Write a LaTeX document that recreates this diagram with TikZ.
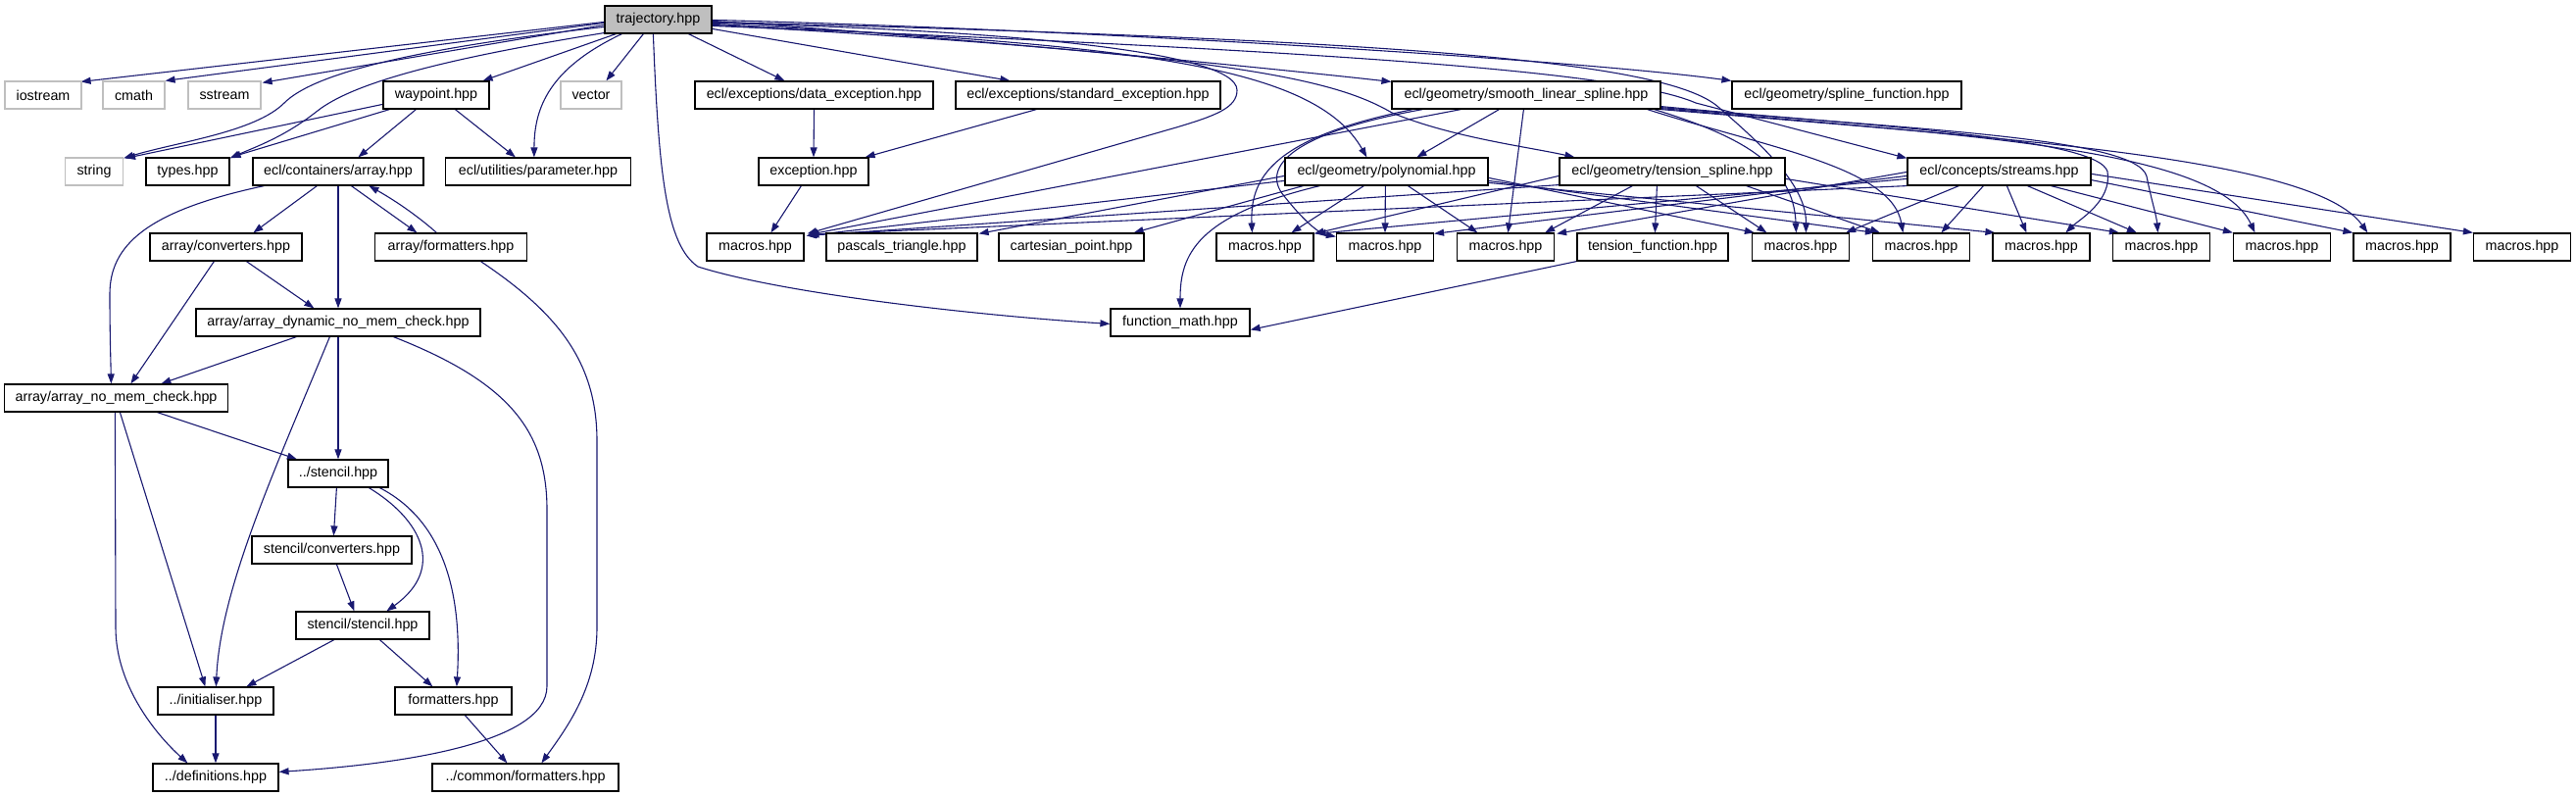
\documentclass[tikz,border=0pt]{standalone}
\usepackage{fontspec}
\setmainfont{Liberation Sans}
\usetikzlibrary{arrows.meta,calc}
\pgfdeclarelayer{bg}
\pgfsetlayers{bg,main}
\definecolor{edgec}{RGB}{25,25,112}
\definecolor{sysgray}{RGB}{191,191,191}
\begin{document}
\begin{tikzpicture}[x=1pt,y=-1pt,
  box/.style={draw=black,line width=1.2pt,fill=white,minimum height=28pt,inner sep=0pt,font=\fontsize{14.3}{16}\selectfont},
  sys/.style={box,draw=sysgray},
  edg/.style={draw=edgec,line width=1.1pt,-{Triangle[length=10pt,width=7pt]}}]
\useasboundingbox (0,0) rectangle (2628,813);
% row 1
\node[box,fill=sysgray,minimum width=109pt] (traj) at (671.5,20) {trajectory.hpp};
% row 2
\node[sys,minimum width=78pt] (ios) at (44,97) {iostream};
\node[sys,minimum width=63pt] (cmath) at (136.5,97) {cmath};
\node[sys,minimum width=74pt] (sstr) at (229,97) {sstream};
\node[box,minimum width=108pt] (way) at (445,97) {waypoint.hpp};
\node[sys,minimum width=62pt] (vec) at (603,97) {vector};
\node[box,minimum width=243pt] (dexc) at (830.5,97) {ecl/exceptions/data\_exception.hpp};
\node[box,minimum width=270pt] (sexc) at (1110,97) {ecl/exceptions/standard\_exception.hpp};
\node[box,minimum width=274pt] (smooth) at (1557,97) {ecl/geometry/smooth\_linear\_spline.hpp};
\node[box,minimum width=234pt] (splf) at (1884,97) {ecl/geometry/spline\_function.hpp};
% row 3
\node[sys,minimum width=59pt] (str) at (96,175) {string};
\node[box,minimum width=85pt] (types) at (191.5,175) {types.hpp};
\node[box,minimum width=174pt] (arr) at (345,175) {ecl/containers/array.hpp};
\node[box,minimum width=189pt] (param) at (549,175) {ecl/utilities/parameter.hpp};
\node[box,minimum width=112pt] (exc) at (830,175) {exception.hpp};
\node[box,minimum width=207pt] (poly) at (1414.5,175) {ecl/geometry/polynomial.hpp};
\node[box,minimum width=230pt] (tens) at (1706,175) {ecl/geometry/tension\_spline.hpp};
\node[box,minimum width=187pt] (strm) at (2039.5,175) {ecl/concepts/streams.hpp};
% row 4
\node[box,minimum width=155pt] (conv) at (230.5,252) {array/converters.hpp};
\node[box,minimum width=155pt] (afmt) at (460,252) {array/formatters.hpp};
\node[box,minimum width=99pt] (m1) at (770.5,252) {macros.hpp};
\node[box,minimum width=154pt] (pasc) at (920,252) {pascals\_triangle.hpp};
\node[box,minimum width=148pt] (cart) at (1093,252) {cartesian\_point.hpp};
\node[box,minimum width=99pt] (mA) at (1290.5,252) {macros.hpp};
\node[box,minimum width=99pt] (mB) at (1413,252) {macros.hpp};
\node[box,minimum width=99pt] (mC) at (1536,252) {macros.hpp};
\node[box,minimum width=154pt] (tfun) at (1686,252) {tension\_function.hpp};
\node[box,minimum width=99pt] (mD) at (1837,252) {macros.hpp};
\node[box,minimum width=99pt] (mE) at (1960,252) {macros.hpp};
\node[box,minimum width=99pt] (mF) at (2082.5,252) {macros.hpp};
\node[box,minimum width=99pt] (mG) at (2205,252) {macros.hpp};
\node[box,minimum width=99pt] (mH) at (2328,252) {macros.hpp};
\node[box,minimum width=99pt] (mI) at (2450.5,252) {macros.hpp};
\node[box,minimum width=99pt] (mJ) at (2573,252) {macros.hpp};
% lower rows
\node[box,minimum width=290pt] (dyn) at (345,329) {array/array\_dynamic\_no\_mem\_check.hpp};
\node[box,minimum width=142pt] (fmath) at (1204,329) {function\_math.hpp};
\node[box,minimum width=228pt] (nomem) at (118.5,406) {array/array\_no\_mem\_check.hpp};
\node[box,minimum width=102pt] (sten) at (345,483) {../stencil.hpp};
\node[box,minimum width=163pt] (sconv) at (338.5,561) {stencil/converters.hpp};
\node[box,minimum width=136pt] (sst) at (370,638) {stencil/stencil.hpp};
\node[box,minimum width=118pt] (init) at (220,715) {../initialiser.hpp};
\node[box,minimum width=119pt] (fmt2) at (462.5,715) {formatters.hpp};
\node[box,minimum width=128pt] (defs) at (220,793) {../definitions.hpp};
\node[box,minimum width=190pt] (cfmt) at (536,793) {../common/formatters.hpp};

\begin{pgfonlayer}{bg}
% trajectory, left part
\draw[edg] ($(traj.north west)+(0,17)$) -- ($(ios.north east)+(-1,1)$);
\draw[edg] ($(traj.north west)+(0,18)$) -- (cmath.north east);
\draw[edg] ($(traj.north west)+(0,20)$) -- ($(sstr.north east)+(1,2)$);
\draw[edg] ($(traj.north west)+(0,22)$) .. controls (420,50) and (320,75) .. (290,105) .. controls (260,135) and (180,145) .. ($(str.north east)+(0,1)$);
\draw[edg] ($(traj.south west)+(6,-2)$) .. controls (450,60) and (360,85) .. (324,113) .. controls (290,140) and (260,150) .. ($(types.north east)+(0,1)$);
\draw[edg] ($(traj.south west)+(12,0)$) -- ($(way.north east)+(-7,0)$);
\draw[edg] ($(traj.south west)+(18,0)$) .. controls (560,70) and (545,110) .. ($(param.north west)+(91,0)$);
\draw[edg] ($(traj.south west)+(40,0)$) -- ($(vec.north west)+(47,0)$);
\draw[edg] ($(traj.south west)+(50,0)$) .. controls (672,180) and (680,250) .. (712,272) .. controls (800,300) and (1000,322) .. ($(fmath.north west)+(0,16)$);
% waypoint
\draw[edg] ($(way.north west)+(0,24)$) -- ($(str.north east)+(2,1)$);
\draw[edg] ($(way.south west)+(7,0)$) -- ($(types.north east)+(1,0)$);
\draw[edg] ($(way.south west)+(34,0)$) -- ($(arr.north west)+(108,0)$);
\draw[edg] ($(way.south west)+(74,0)$) -- ($(param.north west)+(72,0)$);
% array
\draw[edg] ($(arr.south west)+(12,0)$) .. controls (150,215) and (112,250) .. (112,300) .. controls (112,340) and (113,370) .. ($(nomem.north west)+(109.5,0)$);
\draw[edg] ($(arr.south west)+(66,0)$) -- ($(conv.north west)+(106,0)$);
\draw[edg] (arr.south) -- (dyn.north);
\draw[edg] ($(arr.south west)+(101,0)$) -- ($(afmt.north west)+(43.5,0)$);
\draw[edg] ($(afmt.north west)+(63.5,0)$) .. controls (420,215) and (395,200) .. ($(arr.south west)+(119,0)$);
\draw[edg] ($(conv.south west)+(66,0)$) -- ($(nomem.north west)+(129.5,0)$);
\draw[edg] ($(conv.south west)+(99,0)$) -- ($(dyn.north west)+(121,0)$);
\draw[edg] ($(afmt.south west)+(108.5,0)$) .. controls (570,320) and (609,370) .. (609,450) -- (609,640) .. controls (609,700) and (580,740) .. ($(cfmt.north west)+(112,0)$);
\draw[edg] ($(dyn.south west)+(103,0)$) -- ($(nomem.north west)+(160.5,0)$);
\draw[edg] ($(dyn.south west)+(137,0)$) .. controls (280,480) and (225,600) .. ($(init.north west)+(60,0)$);
\draw[edg] (dyn.south) -- (sten.north);
\draw[edg] ($(dyn.south west)+(202,0)$) .. controls (520,390) and (558,440) .. (558,520) -- (558,700) .. controls (558,760) and (400,780) .. ($(defs.north east)+(0,9)$);
\draw[edg] ($(nomem.south west)+(113.5,0)$) -- (118,640) .. controls (118,700) and (160,750) .. ($(defs.north west)+(36,0)$);
\draw[edg] ($(nomem.south west)+(118.5,0)$) -- ($(init.north west)+(49,0)$);
\draw[edg] ($(nomem.south west)+(156.5,0)$) -- ($(sten.north west)+(9.5,0)$);
\draw[edg] ($(sten.south west)+(50,0)$) -- ($(sconv.north west)+(84,0)$);
\draw[edg] ($(sten.south west)+(83,0)$) .. controls (430,530) and (455,580) .. ($(sst.north west)+(93,0)$);
\draw[edg] ($(sten.south west)+(94,0)$) .. controls (450,530) and (472,600) .. ($(fmt2.north west)+(63.5,0)$);
\draw[edg] ($(sconv.south west)+(87,0)$) -- ($(sst.north west)+(60,0)$);
\draw[edg] ($(sst.south west)+(39.5,0)$) -- ($(init.north west)+(91,0)$);
\draw[edg] ($(sst.south west)+(86,0)$) -- ($(fmt2.north west)+(39,0)$);
\draw[edg] (init.south) -- (defs.north);
\draw[edg] ($(fmt2.south west)+(72,0)$) -- ($(cfmt.north west)+(77,0)$);
% exceptions
\draw[edg] ($(traj.south west)+(86,0)$) -- ($(dexc.north west)+(92,0)$);
\draw[edg] ($(traj.north east)+(0,24)$) -- ($(sexc.north west)+(56,0)$);
\draw[edg] (dexc.south) -- (exc.north);
\draw[edg] ($(sexc.south west)+(83,0)$) -- ($(exc.north east)+(-4,0)$);
\draw[edg] ($(exc.south west)+(44,0)$) -- ($(m1.north west)+(66,0)$);
% trajectory, right part
\draw[edg] ($(traj.north east)+(0,18)$) .. controls (1000,30) and (1262,50) .. (1262,92) .. controls (1262,110) and (1240,118) .. (1200,130) -- ($(m1.north east)+(3,1)$);
\draw[edg] ($(traj.north east)+(0,16)$) .. controls (1000,40) and (1300,70) .. ($(smooth.north west)+(0,1)$);
\draw[edg] ($(traj.north east)+(0,15)$) .. controls (1100,30) and (1600,60) .. (splf.north west);
\draw[edg] ($(traj.north east)+(0,19)$) .. controls (1150,45) and (1340,65) .. ($(poly.north west)+(84,0)$);
\draw[edg] ($(traj.north east)+(0,20)$) .. controls (1250,55) and (1360,80) .. (1420,115) .. controls (1480,140) and (1560,150) .. ($(tens.north west)+(16,0)$);
\draw[edg] ($(traj.north east)+(0,21)$) .. controls (1300,50) and (1650,70) .. (1730,105) -- ($(strm.north west)+(0,1)$);
\draw[edg] ($(traj.north east)+(0,17)$) .. controls (1400,40) and (1700,60) .. (1754,110) .. controls (1800,150) and (1843,190) .. ($(mD.north west)+(55.5,0)$);
% smooth_linear_spline
\draw[edg] ($(smooth.south west)+(71,0)$) -- ($(m1.north east)+(4,2)$);
\draw[edg] ($(smooth.south west)+(110,0)$) -- ($(poly.north west)+(135,0)$);
\draw[edg] ($(smooth.south west)+(22,0)$) .. controls (1300,140) and (1275,180) .. ($(mA.north west)+(37,0)$);
\draw[edg] ($(smooth.south west)+(32,0)$) .. controls (1320,135) and (1285,170) .. (1310,200) .. controls (1330,225) and (1345,238) .. ($(mB.north west)+(0,4)$);
\draw[edg] ($(smooth.south west)+(135,0)$) -- ($(mC.north west)+(52.5,0)$);
\draw[edg] ($(smooth.south east)+(0,-3)$) .. controls (1900,128) and (2140,140) .. (2150,175) .. controls (2155,205) and (2120,225) .. ($(mF.north west)+(75,0)$);
\draw[edg] ($(smooth.south east)+(0,-2)$) .. controls (1950,132) and (2180,140) .. (2190,180) .. controls (2195,205) and (2200,220) .. ($(mG.north west)+(46.5,0)$);
\draw[edg] ($(smooth.south east)+(0,-1)$) .. controls (2000,138) and (2260,150) .. ($(mH.north west)+(22.5,0)$);
\draw[edg] (smooth.south east) .. controls (2050,142) and (2360,160) .. ($(mI.north west)+(15,0)$);
\draw[edg] ($(smooth.south east)+(-7,0)$) .. controls (1780,140) and (1830,170) .. ($(mD.north west)+(45.5,0)$);
\draw[edg] ($(smooth.south east)+(-14,0)$) .. controls (1800,150) and (1930,170) .. ($(mE.north west)+(31.5,0)$);
% polynomial
\draw[edg] ($(poly.north west)+(0,24)$) -- ($(m1.north east)+(3,3)$);
\draw[edg] ($(poly.north west)+(0,19)$) -- ($(pasc.north east)+(1,1)$);
\draw[edg] ($(poly.south west)+(19,0)$) -- ($(cart.north east)+(-11,0)$);
\draw[edg] ($(poly.south west)+(36,0)$) .. controls (1220,220) and (1204,260) .. (fmath.north);
\draw[edg] ($(poly.south west)+(81,0)$) -- ($(mA.north west)+(77,0)$);
\draw[edg] ($(poly.south west)+(103,0)$) -- (mB.north);
\draw[edg] ($(poly.south west)+(126,0)$) -- ($(mC.north west)+(21.5,0)$);
\draw[edg] ($(poly.north east)+(0,21)$) -- ($(mD.north west)+(3,0)$);
\draw[edg] ($(poly.north east)+(0,24)$) -- ($(mE.north west)+(3,0)$);
\draw[edg] ($(poly.north east)+(0,26)$) -- ($(mF.north west)+(3,0)$);
% tension_spline
\draw[edg] ($(tens.south west)+(0,-1)$) -- ($(m1.north east)+(2,3)$);
\draw[edg] ($(tens.north west)+(0,19)$) -- ($(mA.north east)+(0,1)$);
\draw[edg] ($(tens.south west)+(75,0)$) -- ($(mC.north east)+(-10,0)$);
\draw[edg] ($(tens.south west)+(100,0)$) -- ($(tfun.north west)+(80,0)$);
\draw[edg] ($(tens.south west)+(140,0)$) -- ($(mD.north west)+(15.5,0)$);
\draw[edg] ($(tens.south east)+(-40,0)$) -- ($(mE.north west)+(8,0)$);
\draw[edg] ($(tens.north east)+(0,22)$) -- ($(mG.north west)+(7,0)$);
% streams
\draw[edg] ($(strm.south west)+(0,0)$) -- ($(m1.north east)+(5,2)$);
\draw[edg] ($(strm.north west)+(0,22)$) -- ($(mA.north east)+(2,1)$);
\draw[edg] ($(strm.north west)+(0,19)$) -- ($(mB.north east)+(0,1)$);
\draw[edg] ($(strm.north west)+(0,15)$) -- ($(mC.north east)+(2,1)$);
\draw[edg] ($(strm.south west)+(53,0)$) -- ($(mD.north east)+(-4,0)$);
\draw[edg] ($(strm.south west)+(78,0)$) -- ($(mE.north west)+(70.5,0)$);
\draw[edg] ($(strm.south west)+(102,0)$) -- ($(mF.north west)+(35,0)$);
\draw[edg] ($(strm.south west)+(123,0)$) -- ($(mG.north west)+(25,0)$);
\draw[edg] ($(strm.south west)+(147,0)$) -- (mH.north west);
\draw[edg] ($(strm.south east)+(0,-6)$) -- (mI.north west);
\draw[edg] ($(strm.north east)+(0,17)$) -- (mJ.north west);
% tension_function
\draw[edg] (tfun.south west) -- ($(fmath.north east)+(0,22)$);
\end{pgfonlayer}
\end{tikzpicture}
\end{document}
